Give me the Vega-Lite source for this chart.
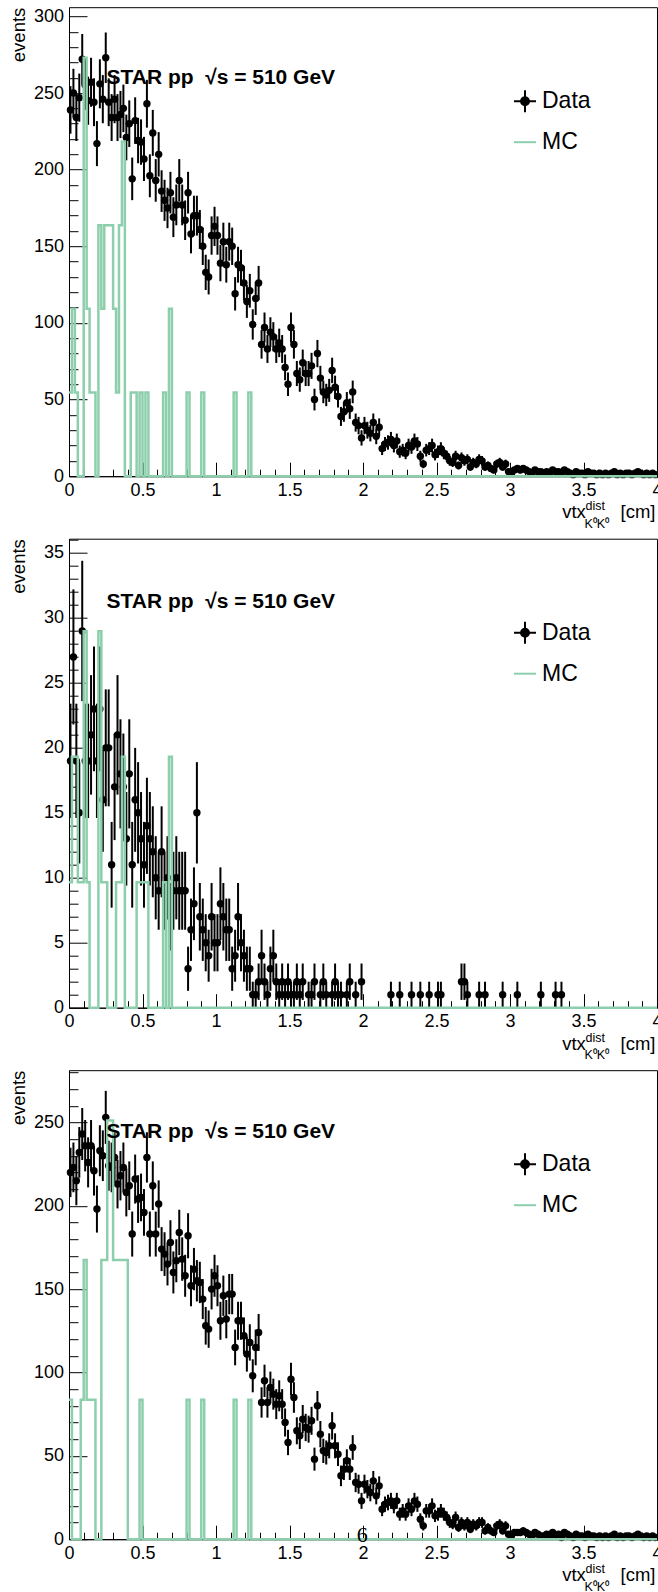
{
"$schema": "https://vega.github.io/schema/vega-lite/v6.json",
"background": "white",
"padding": {"left": 9, "top": 6.2, "right": 0, "bottom": 0},
"bounds": "flush",
"spacing": 62.5,
"resolve": {"scale": {"color": "independent"}},
"datasets": {
"d1": [{"x":0.01,"n":239,"e":15.5},{"x":0.03,"n":250,"e":15.8},{"x":0.05,"n":234,"e":15.3},{"x":0.07,"n":247,"e":15.7},{"x":0.09,"n":272,"e":16.5},{"x":0.11,"n":255,"e":16},{"x":0.13,"n":245,"e":15.7},{"x":0.15,"n":257,"e":16},{"x":0.17,"n":244,"e":15.6},{"x":0.19,"n":217,"e":14.7},{"x":0.21,"n":256,"e":16},{"x":0.23,"n":246,"e":15.7},{"x":0.25,"n":273,"e":16.5},{"x":0.27,"n":244,"e":15.6},{"x":0.29,"n":234,"e":15.3},{"x":0.31,"n":246,"e":15.7},{"x":0.33,"n":234,"e":15.3},{"x":0.35,"n":236,"e":15.4},{"x":0.37,"n":240,"e":15.5},{"x":0.39,"n":221,"e":14.9},{"x":0.41,"n":230,"e":15.2},{"x":0.43,"n":194,"e":13.9},{"x":0.45,"n":232,"e":15.2},{"x":0.47,"n":219,"e":14.8},{"x":0.49,"n":218,"e":14.8},{"x":0.51,"n":207,"e":14.4},{"x":0.53,"n":243,"e":15.6},{"x":0.55,"n":196,"e":14},{"x":0.57,"n":224,"e":15},{"x":0.59,"n":193,"e":13.9},{"x":0.61,"n":210,"e":14.5},{"x":0.63,"n":186,"e":13.6},{"x":0.65,"n":180,"e":13.4},{"x":0.67,"n":175,"e":13.2},{"x":0.69,"n":185,"e":13.6},{"x":0.71,"n":169,"e":13},{"x":0.73,"n":177,"e":13.3},{"x":0.75,"n":193,"e":13.9},{"x":0.77,"n":177,"e":13.3},{"x":0.79,"n":167,"e":12.9},{"x":0.81,"n":185,"e":13.6},{"x":0.83,"n":158,"e":12.6},{"x":0.85,"n":170,"e":13},{"x":0.87,"n":170,"e":13},{"x":0.89,"n":161,"e":12.7},{"x":0.91,"n":150,"e":12.2},{"x":0.93,"n":133,"e":11.5},{"x":0.95,"n":130,"e":11.4},{"x":0.97,"n":157,"e":12.5},{"x":0.99,"n":163,"e":12.8},{"x":1.01,"n":157,"e":12.5},{"x":1.03,"n":139,"e":11.8},{"x":1.05,"n":153,"e":12.4},{"x":1.07,"n":138,"e":11.7},{"x":1.09,"n":153,"e":12.4},{"x":1.11,"n":150,"e":12.2},{"x":1.13,"n":119,"e":10.9},{"x":1.15,"n":138,"e":11.7},{"x":1.17,"n":136,"e":11.7},{"x":1.19,"n":126,"e":11.2},{"x":1.21,"n":114,"e":10.7},{"x":1.23,"n":121,"e":11},{"x":1.25,"n":99,"e":9.9},{"x":1.27,"n":116,"e":10.8},{"x":1.29,"n":126,"e":11.2},{"x":1.31,"n":86,"e":9.3},{"x":1.33,"n":97,"e":9.8},{"x":1.35,"n":83,"e":9.1},{"x":1.37,"n":94,"e":9.7},{"x":1.39,"n":91,"e":9.5},{"x":1.41,"n":83,"e":9.1},{"x":1.43,"n":87,"e":9.3},{"x":1.45,"n":83,"e":9.1},{"x":1.47,"n":71,"e":8.4},{"x":1.49,"n":60,"e":7.7},{"x":1.51,"n":97,"e":9.8},{"x":1.53,"n":86,"e":9.3},{"x":1.55,"n":67,"e":8.2},{"x":1.57,"n":63,"e":7.9},{"x":1.59,"n":74,"e":8.6},{"x":1.61,"n":67,"e":8.2},{"x":1.63,"n":67,"e":8.2},{"x":1.65,"n":72,"e":8.5},{"x":1.67,"n":50,"e":7.1},{"x":1.69,"n":80,"e":8.9},{"x":1.71,"n":64,"e":8},{"x":1.73,"n":55,"e":7.4},{"x":1.75,"n":53,"e":7.3},{"x":1.77,"n":56,"e":7.5},{"x":1.79,"n":69,"e":8.3},{"x":1.81,"n":58,"e":7.6},{"x":1.83,"n":52,"e":7.2},{"x":1.85,"n":39,"e":6.2},{"x":1.87,"n":42,"e":6.5},{"x":1.89,"n":48,"e":6.9},{"x":1.91,"n":44,"e":6.6},{"x":1.93,"n":55,"e":7.4},{"x":1.95,"n":35,"e":5.9},{"x":1.97,"n":33,"e":5.7},{"x":1.99,"n":25,"e":5},{"x":2.01,"n":33,"e":5.7},{"x":2.03,"n":30,"e":5.5},{"x":2.05,"n":28,"e":5.3},{"x":2.07,"n":35,"e":5.9},{"x":2.09,"n":26,"e":5.1},{"x":2.11,"n":32,"e":5.7},{"x":2.13,"n":18,"e":4.2},{"x":2.15,"n":21,"e":4.6},{"x":2.17,"n":22,"e":4.7},{"x":2.19,"n":24,"e":4.9},{"x":2.21,"n":20,"e":4.5},{"x":2.23,"n":23,"e":4.8},{"x":2.25,"n":16,"e":4},{"x":2.27,"n":17,"e":4.1},{"x":2.29,"n":15,"e":3.9},{"x":2.31,"n":20,"e":4.5},{"x":2.33,"n":19,"e":4.4},{"x":2.35,"n":23,"e":4.8},{"x":2.37,"n":21,"e":4.6},{"x":2.39,"n":13,"e":3.6},{"x":2.41,"n":8,"e":2.8},{"x":2.43,"n":17,"e":4.1},{"x":2.45,"n":18,"e":4.2},{"x":2.47,"n":20,"e":4.5},{"x":2.49,"n":14,"e":3.7},{"x":2.51,"n":16,"e":4},{"x":2.53,"n":18,"e":4.2},{"x":2.55,"n":15,"e":3.9},{"x":2.57,"n":13,"e":3.6},{"x":2.59,"n":10,"e":3.2},{"x":2.61,"n":9,"e":3},{"x":2.63,"n":13,"e":3.6},{"x":2.65,"n":7,"e":2.6},{"x":2.67,"n":12,"e":3.5},{"x":2.69,"n":10,"e":3.2},{"x":2.71,"n":11,"e":3.3},{"x":2.73,"n":6,"e":2.4},{"x":2.75,"n":9,"e":3},{"x":2.77,"n":8,"e":2.8},{"x":2.79,"n":11,"e":3.3},{"x":2.81,"n":10,"e":3.2},{"x":2.83,"n":6,"e":2.4},{"x":2.85,"n":7,"e":2.6},{"x":2.87,"n":5,"e":2.2},{"x":2.89,"n":4,"e":2},{"x":2.91,"n":8,"e":2.8},{"x":2.93,"n":9,"e":3},{"x":2.95,"n":6,"e":2.4},{"x":2.97,"n":8,"e":2.8},{"x":2.99,"n":3,"e":1.7},{"x":3.01,"n":2,"e":1.4},{"x":3.03,"n":4,"e":2},{"x":3.05,"n":5,"e":2.2},{"x":3.07,"n":4,"e":2},{"x":3.09,"n":5,"e":2.2},{"x":3.11,"n":4,"e":2},{"x":3.13,"n":3,"e":1.7},{"x":3.15,"n":2,"e":1.4},{"x":3.17,"n":4,"e":2},{"x":3.19,"n":3,"e":1.7},{"x":3.21,"n":3,"e":1.7},{"x":3.23,"n":2,"e":1.4},{"x":3.25,"n":3,"e":1.7},{"x":3.27,"n":2,"e":1.4},{"x":3.29,"n":4,"e":2},{"x":3.31,"n":3,"e":1.7},{"x":3.33,"n":3,"e":1.7},{"x":3.35,"n":2,"e":1.4},{"x":3.37,"n":4,"e":2},{"x":3.39,"n":3,"e":1.7},{"x":3.41,"n":2,"e":1.4},{"x":3.43,"n":1,"e":1},{"x":3.45,"n":3,"e":1.7},{"x":3.47,"n":2,"e":1.4},{"x":3.49,"n":2,"e":1.4},{"x":3.51,"n":1,"e":1},{"x":3.53,"n":3,"e":1.7},{"x":3.55,"n":2,"e":1.4},{"x":3.57,"n":2,"e":1.4},{"x":3.59,"n":1,"e":1},{"x":3.61,"n":2,"e":1.4},{"x":3.63,"n":1,"e":1},{"x":3.65,"n":2,"e":1.4},{"x":3.67,"n":1,"e":1},{"x":3.69,"n":2,"e":1.4},{"x":3.71,"n":3,"e":1.7},{"x":3.73,"n":1,"e":1},{"x":3.75,"n":2,"e":1.4},{"x":3.77,"n":1,"e":1},{"x":3.79,"n":2,"e":1.4},{"x":3.81,"n":2,"e":1.4},{"x":3.83,"n":1,"e":1},{"x":3.85,"n":2,"e":1.4},{"x":3.87,"n":3,"e":1.7},{"x":3.89,"n":2,"e":1.4},{"x":3.91,"n":1,"e":1},{"x":3.93,"n":2,"e":1.4},{"x":3.95,"n":1,"e":1},{"x":3.97,"n":2,"e":1.4},{"x":3.99,"n":1,"e":1}],
"d2": [{"x":0.01,"n":19,"e":4.4},{"x":0.03,"n":27,"e":5.2},{"x":0.05,"n":19,"e":4.4},{"x":0.07,"n":15,"e":3.9},{"x":0.09,"n":29,"e":5.4},{"x":0.11,"n":19,"e":4.4},{"x":0.13,"n":19,"e":4.4},{"x":0.15,"n":21,"e":4.6},{"x":0.17,"n":23,"e":4.8},{"x":0.19,"n":19,"e":4.4},{"x":0.21,"n":23,"e":4.8},{"x":0.23,"n":16,"e":4},{"x":0.25,"n":20,"e":4.5},{"x":0.27,"n":20,"e":4.5},{"x":0.29,"n":11,"e":3.3},{"x":0.31,"n":17,"e":4.1},{"x":0.33,"n":21,"e":4.6},{"x":0.35,"n":18,"e":4.2},{"x":0.37,"n":17,"e":4.1},{"x":0.39,"n":13,"e":3.6},{"x":0.41,"n":18,"e":4.2},{"x":0.43,"n":11,"e":3.3},{"x":0.45,"n":16,"e":4},{"x":0.47,"n":15,"e":3.9},{"x":0.49,"n":13,"e":3.6},{"x":0.51,"n":11,"e":3.3},{"x":0.53,"n":14,"e":3.7},{"x":0.55,"n":13,"e":3.6},{"x":0.57,"n":12,"e":3.5},{"x":0.59,"n":10,"e":3.2},{"x":0.61,"n":9,"e":3},{"x":0.63,"n":12,"e":3.5},{"x":0.65,"n":9,"e":3},{"x":0.67,"n":10,"e":3.2},{"x":0.69,"n":7,"e":2.6},{"x":0.71,"n":9,"e":3},{"x":0.73,"n":10,"e":3.2},{"x":0.75,"n":9,"e":3},{"x":0.77,"n":9,"e":3},{"x":0.79,"n":9,"e":3},{"x":0.81,"n":3,"e":1.7},{"x":0.83,"n":6,"e":2.4},{"x":0.85,"n":8,"e":2.8},{"x":0.87,"n":15,"e":3.9},{"x":0.89,"n":7,"e":2.6},{"x":0.91,"n":6,"e":2.4},{"x":0.93,"n":5,"e":2.2},{"x":0.95,"n":4,"e":2},{"x":0.97,"n":7,"e":2.6},{"x":0.99,"n":5,"e":2.2},{"x":1.01,"n":5,"e":2.2},{"x":1.03,"n":8,"e":2.8},{"x":1.05,"n":7,"e":2.6},{"x":1.07,"n":6,"e":2.4},{"x":1.09,"n":6,"e":2.4},{"x":1.11,"n":3,"e":1.7},{"x":1.13,"n":4,"e":2},{"x":1.15,"n":7,"e":2.6},{"x":1.17,"n":5,"e":2.2},{"x":1.19,"n":4,"e":2},{"x":1.21,"n":3,"e":1.7},{"x":1.23,"n":3,"e":1.7},{"x":1.25,"n":1,"e":1},{"x":1.27,"n":1,"e":1},{"x":1.29,"n":2,"e":1.4},{"x":1.31,"n":4,"e":2},{"x":1.33,"n":2,"e":1.4},{"x":1.35,"n":1,"e":1},{"x":1.37,"n":3,"e":1.7},{"x":1.39,"n":4,"e":2},{"x":1.41,"n":2,"e":1.4},{"x":1.43,"n":1,"e":1},{"x":1.45,"n":2,"e":1.4},{"x":1.47,"n":1,"e":1},{"x":1.49,"n":2,"e":1.4},{"x":1.51,"n":1,"e":1},{"x":1.53,"n":1,"e":1},{"x":1.55,"n":2,"e":1.4},{"x":1.57,"n":1,"e":1},{"x":1.59,"n":2,"e":1.4},{"x":1.63,"n":1,"e":1},{"x":1.65,"n":1,"e":1},{"x":1.67,"n":2,"e":1.4},{"x":1.71,"n":1,"e":1},{"x":1.73,"n":2,"e":1.4},{"x":1.75,"n":1,"e":1},{"x":1.79,"n":1,"e":1},{"x":1.81,"n":2,"e":1.4},{"x":1.83,"n":1,"e":1},{"x":1.85,"n":1,"e":1},{"x":1.89,"n":1,"e":1},{"x":1.91,"n":2,"e":1.4},{"x":1.95,"n":1,"e":1},{"x":1.99,"n":2,"e":1.4},{"x":2.19,"n":1,"e":1},{"x":2.25,"n":1,"e":1},{"x":2.33,"n":1,"e":1},{"x":2.39,"n":1,"e":1},{"x":2.45,"n":1,"e":1},{"x":2.51,"n":1,"e":1},{"x":2.53,"n":1,"e":1},{"x":2.67,"n":2,"e":1.4},{"x":2.69,"n":2,"e":1.4},{"x":2.71,"n":1,"e":1},{"x":2.79,"n":1,"e":1},{"x":2.83,"n":1,"e":1},{"x":2.95,"n":1,"e":1},{"x":3.05,"n":1,"e":1},{"x":3.21,"n":1,"e":1},{"x":3.31,"n":1,"e":1},{"x":3.35,"n":1,"e":1}],
"d3": [{"x":0.01,"n":220,"e":14.8},{"x":0.03,"n":223,"e":14.9},{"x":0.05,"n":215,"e":14.7},{"x":0.07,"n":232,"e":15.2},{"x":0.09,"n":243,"e":15.6},{"x":0.11,"n":236,"e":15.4},{"x":0.13,"n":226,"e":15},{"x":0.15,"n":236,"e":15.4},{"x":0.17,"n":221,"e":14.9},{"x":0.19,"n":198,"e":14.1},{"x":0.21,"n":233,"e":15.3},{"x":0.23,"n":230,"e":15.2},{"x":0.25,"n":253,"e":15.9},{"x":0.27,"n":224,"e":15},{"x":0.29,"n":223,"e":14.9},{"x":0.31,"n":229,"e":15.1},{"x":0.33,"n":213,"e":14.6},{"x":0.35,"n":218,"e":14.8},{"x":0.37,"n":223,"e":14.9},{"x":0.39,"n":208,"e":14.4},{"x":0.41,"n":212,"e":14.6},{"x":0.43,"n":183,"e":13.5},{"x":0.45,"n":216,"e":14.7},{"x":0.47,"n":204,"e":14.3},{"x":0.49,"n":205,"e":14.3},{"x":0.51,"n":196,"e":14},{"x":0.53,"n":229,"e":15.1},{"x":0.55,"n":183,"e":13.5},{"x":0.57,"n":212,"e":14.6},{"x":0.59,"n":183,"e":13.5},{"x":0.61,"n":201,"e":14.2},{"x":0.63,"n":174,"e":13.2},{"x":0.65,"n":171,"e":13.1},{"x":0.67,"n":165,"e":12.8},{"x":0.69,"n":178,"e":13.3},{"x":0.71,"n":160,"e":12.6},{"x":0.73,"n":167,"e":12.9},{"x":0.75,"n":184,"e":13.6},{"x":0.77,"n":168,"e":13},{"x":0.79,"n":158,"e":12.6},{"x":0.81,"n":182,"e":13.5},{"x":0.83,"n":152,"e":12.3},{"x":0.85,"n":162,"e":12.7},{"x":0.87,"n":155,"e":12.4},{"x":0.89,"n":154,"e":12.4},{"x":0.91,"n":144,"e":12},{"x":0.93,"n":128,"e":11.3},{"x":0.95,"n":126,"e":11.2},{"x":0.97,"n":150,"e":12.2},{"x":0.99,"n":158,"e":12.6},{"x":1.01,"n":152,"e":12.3},{"x":1.03,"n":131,"e":11.4},{"x":1.05,"n":146,"e":12.1},{"x":1.07,"n":132,"e":11.5},{"x":1.09,"n":147,"e":12.1},{"x":1.11,"n":147,"e":12.1},{"x":1.13,"n":115,"e":10.7},{"x":1.15,"n":131,"e":11.4},{"x":1.17,"n":131,"e":11.4},{"x":1.19,"n":122,"e":11},{"x":1.21,"n":111,"e":10.5},{"x":1.23,"n":118,"e":10.9},{"x":1.25,"n":98,"e":9.9},{"x":1.27,"n":115,"e":10.7},{"x":1.29,"n":124,"e":11.1},{"x":1.31,"n":82,"e":9.1},{"x":1.33,"n":95,"e":9.7},{"x":1.35,"n":82,"e":9.1},{"x":1.37,"n":91,"e":9.5},{"x":1.39,"n":87,"e":9.3},{"x":1.41,"n":81,"e":9},{"x":1.43,"n":86,"e":9.3},{"x":1.45,"n":81,"e":9},{"x":1.47,"n":70,"e":8.4},{"x":1.49,"n":58,"e":7.6},{"x":1.51,"n":96,"e":9.8},{"x":1.53,"n":85,"e":9.2},{"x":1.55,"n":65,"e":8.1},{"x":1.57,"n":62,"e":7.9},{"x":1.59,"n":72,"e":8.5},{"x":1.61,"n":67,"e":8.2},{"x":1.63,"n":66,"e":8.1},{"x":1.65,"n":71,"e":8.4},{"x":1.67,"n":48,"e":6.9},{"x":1.69,"n":80,"e":8.9},{"x":1.71,"n":63,"e":7.9},{"x":1.73,"n":53,"e":7.3},{"x":1.75,"n":52,"e":7.2},{"x":1.77,"n":56,"e":7.5},{"x":1.79,"n":68,"e":8.2},{"x":1.81,"n":56,"e":7.5},{"x":1.83,"n":51,"e":7.1},{"x":1.85,"n":38,"e":6.2},{"x":1.87,"n":42,"e":6.5},{"x":1.89,"n":47,"e":6.9},{"x":1.91,"n":42,"e":6.5},{"x":1.93,"n":55,"e":7.4},{"x":1.95,"n":34,"e":5.8},{"x":1.97,"n":33,"e":5.7},{"x":1.99,"n":23,"e":4.8},{"x":2.01,"n":33,"e":5.7},{"x":2.03,"n":30,"e":5.5},{"x":2.05,"n":28,"e":5.3},{"x":2.07,"n":35,"e":5.9},{"x":2.09,"n":26,"e":5.1},{"x":2.11,"n":32,"e":5.7},{"x":2.13,"n":18,"e":4.2},{"x":2.15,"n":21,"e":4.6},{"x":2.17,"n":22,"e":4.7},{"x":2.19,"n":23,"e":4.8},{"x":2.21,"n":20,"e":4.5},{"x":2.23,"n":23,"e":4.8},{"x":2.25,"n":15,"e":3.9},{"x":2.27,"n":17,"e":4.1},{"x":2.29,"n":15,"e":3.9},{"x":2.31,"n":20,"e":4.5},{"x":2.33,"n":18,"e":4.2},{"x":2.35,"n":23,"e":4.8},{"x":2.37,"n":21,"e":4.6},{"x":2.39,"n":12,"e":3.5},{"x":2.41,"n":8,"e":2.8},{"x":2.43,"n":17,"e":4.1},{"x":2.45,"n":17,"e":4.1},{"x":2.47,"n":20,"e":4.5},{"x":2.49,"n":14,"e":3.7},{"x":2.51,"n":15,"e":3.9},{"x":2.53,"n":17,"e":4.1},{"x":2.55,"n":15,"e":3.9},{"x":2.57,"n":13,"e":3.6},{"x":2.59,"n":10,"e":3.2},{"x":2.61,"n":9,"e":3},{"x":2.63,"n":13,"e":3.6},{"x":2.65,"n":7,"e":2.6},{"x":2.67,"n":10,"e":3.2},{"x":2.69,"n":8,"e":2.8},{"x":2.71,"n":10,"e":3.2},{"x":2.73,"n":6,"e":2.4},{"x":2.75,"n":9,"e":3},{"x":2.77,"n":8,"e":2.8},{"x":2.79,"n":10,"e":3.2},{"x":2.81,"n":10,"e":3.2},{"x":2.83,"n":5,"e":2.2},{"x":2.85,"n":7,"e":2.6},{"x":2.87,"n":5,"e":2.2},{"x":2.89,"n":4,"e":2},{"x":2.91,"n":8,"e":2.8},{"x":2.93,"n":9,"e":3},{"x":2.95,"n":5,"e":2.2},{"x":2.97,"n":8,"e":2.8},{"x":2.99,"n":3,"e":1.7},{"x":3.01,"n":2,"e":1.4},{"x":3.03,"n":4,"e":2},{"x":3.05,"n":4,"e":2},{"x":3.07,"n":4,"e":2},{"x":3.09,"n":5,"e":2.2},{"x":3.11,"n":4,"e":2},{"x":3.13,"n":3,"e":1.7},{"x":3.15,"n":2,"e":1.4},{"x":3.17,"n":4,"e":2},{"x":3.19,"n":3,"e":1.7},{"x":3.21,"n":2,"e":1.4},{"x":3.23,"n":2,"e":1.4},{"x":3.25,"n":3,"e":1.7},{"x":3.27,"n":2,"e":1.4},{"x":3.29,"n":4,"e":2},{"x":3.31,"n":2,"e":1.4},{"x":3.33,"n":3,"e":1.7},{"x":3.35,"n":1,"e":1},{"x":3.37,"n":4,"e":2},{"x":3.39,"n":3,"e":1.7},{"x":3.41,"n":2,"e":1.4},{"x":3.43,"n":1,"e":1},{"x":3.45,"n":3,"e":1.7},{"x":3.47,"n":2,"e":1.4},{"x":3.49,"n":2,"e":1.4},{"x":3.51,"n":1,"e":1},{"x":3.53,"n":3,"e":1.7},{"x":3.55,"n":2,"e":1.4},{"x":3.57,"n":2,"e":1.4},{"x":3.59,"n":1,"e":1},{"x":3.61,"n":2,"e":1.4},{"x":3.63,"n":1,"e":1},{"x":3.65,"n":2,"e":1.4},{"x":3.67,"n":1,"e":1},{"x":3.69,"n":2,"e":1.4},{"x":3.71,"n":3,"e":1.7},{"x":3.73,"n":1,"e":1},{"x":3.75,"n":2,"e":1.4},{"x":3.77,"n":1,"e":1},{"x":3.79,"n":2,"e":1.4},{"x":3.81,"n":2,"e":1.4},{"x":3.83,"n":1,"e":1},{"x":3.85,"n":2,"e":1.4},{"x":3.87,"n":3,"e":1.7},{"x":3.89,"n":2,"e":1.4},{"x":3.91,"n":1,"e":1},{"x":3.93,"n":2,"e":1.4},{"x":3.95,"n":1,"e":1},{"x":3.97,"n":2,"e":1.4},{"x":3.99,"n":1,"e":1}],
"m1": [{"x":0,"v":54.6},{"x":0.02,"v":109.2},{"x":0.04,"v":54.6},{"x":0.06,"v":0},{"x":0.08,"v":0},{"x":0.1,"v":273},{"x":0.12,"v":109.2},{"x":0.14,"v":54.6},{"x":0.16,"v":54.6},{"x":0.18,"v":0},{"x":0.2,"v":163.8},{"x":0.22,"v":109.2},{"x":0.24,"v":163.8},{"x":0.26,"v":163.8},{"x":0.28,"v":163.8},{"x":0.3,"v":109.2},{"x":0.32,"v":54.6},{"x":0.34,"v":163.8},{"x":0.36,"v":218.4},{"x":0.38,"v":0},{"x":0.4,"v":0},{"x":0.42,"v":54.6},{"x":0.44,"v":54.6},{"x":0.46,"v":0},{"x":0.48,"v":54.6},{"x":0.5,"v":0},{"x":0.52,"v":54.6},{"x":0.54,"v":0},{"x":0.56,"v":0},{"x":0.58,"v":0},{"x":0.6,"v":0},{"x":0.62,"v":0},{"x":0.64,"v":54.6},{"x":0.66,"v":0},{"x":0.68,"v":109.2},{"x":0.7,"v":0},{"x":0.72,"v":0},{"x":0.74,"v":0},{"x":0.76,"v":0},{"x":0.78,"v":0},{"x":0.8,"v":54.6},{"x":0.82,"v":0},{"x":0.84,"v":0},{"x":0.86,"v":0},{"x":0.88,"v":0},{"x":0.9,"v":54.6},{"x":0.92,"v":0},{"x":0.94,"v":0},{"x":0.96,"v":0},{"x":0.98,"v":0},{"x":1,"v":0},{"x":1.02,"v":0},{"x":1.04,"v":0},{"x":1.06,"v":0},{"x":1.08,"v":0},{"x":1.1,"v":0},{"x":1.12,"v":54.6},{"x":1.14,"v":0},{"x":1.16,"v":0},{"x":1.18,"v":0},{"x":1.2,"v":0},{"x":1.22,"v":54.6},{"x":1.24,"v":0},{"x":4,"v":0}],
"m2": [{"x":0,"v":9.66},{"x":0.02,"v":19.32},{"x":0.04,"v":19.32},{"x":0.06,"v":9.66},{"x":0.08,"v":9.66},{"x":0.1,"v":28.98},{"x":0.12,"v":9.66},{"x":0.14,"v":0},{"x":0.16,"v":0},{"x":0.18,"v":0},{"x":0.2,"v":28.98},{"x":0.22,"v":9.66},{"x":0.24,"v":9.66},{"x":0.26,"v":0},{"x":0.28,"v":0},{"x":0.3,"v":0},{"x":0.32,"v":9.66},{"x":0.34,"v":9.66},{"x":0.36,"v":19.32},{"x":0.38,"v":0},{"x":0.4,"v":0},{"x":0.42,"v":0},{"x":0.44,"v":0},{"x":0.46,"v":9.66},{"x":0.48,"v":9.66},{"x":0.5,"v":9.66},{"x":0.52,"v":9.66},{"x":0.54,"v":0},{"x":0.56,"v":0},{"x":0.58,"v":0},{"x":0.6,"v":0},{"x":0.62,"v":0},{"x":0.64,"v":9.66},{"x":0.66,"v":0},{"x":0.68,"v":19.32},{"x":0.7,"v":0},{"x":4,"v":0}],
"m3": [{"x":0,"v":83.7},{"x":0.02,"v":0},{"x":0.04,"v":0},{"x":0.06,"v":0},{"x":0.08,"v":83.7},{"x":0.1,"v":167.4},{"x":0.12,"v":83.7},{"x":0.14,"v":83.7},{"x":0.16,"v":83.7},{"x":0.18,"v":0},{"x":0.2,"v":0},{"x":0.22,"v":167.4},{"x":0.24,"v":167.4},{"x":0.26,"v":251.1},{"x":0.28,"v":251.1},{"x":0.3,"v":167.4},{"x":0.32,"v":167.4},{"x":0.34,"v":167.4},{"x":0.36,"v":167.4},{"x":0.38,"v":167.4},{"x":0.4,"v":0},{"x":0.42,"v":0},{"x":0.44,"v":0},{"x":0.46,"v":0},{"x":0.48,"v":83.7},{"x":0.5,"v":0},{"x":0.52,"v":0},{"x":0.54,"v":0},{"x":0.56,"v":0},{"x":0.58,"v":0},{"x":0.6,"v":0},{"x":0.62,"v":0},{"x":0.64,"v":0},{"x":0.66,"v":0},{"x":0.68,"v":0},{"x":0.7,"v":0},{"x":0.72,"v":0},{"x":0.74,"v":0},{"x":0.76,"v":0},{"x":0.78,"v":0},{"x":0.8,"v":83.7},{"x":0.82,"v":0},{"x":0.84,"v":0},{"x":0.86,"v":0},{"x":0.88,"v":0},{"x":0.9,"v":83.7},{"x":0.92,"v":0},{"x":0.94,"v":0},{"x":0.96,"v":0},{"x":0.98,"v":0},{"x":1,"v":0},{"x":1.02,"v":0},{"x":1.04,"v":0},{"x":1.06,"v":0},{"x":1.08,"v":0},{"x":1.1,"v":0},{"x":1.12,"v":83.7},{"x":1.14,"v":0},{"x":1.16,"v":0},{"x":1.18,"v":0},{"x":1.2,"v":0},{"x":1.22,"v":83.7},{"x":1.24,"v":0},{"x":4,"v":0}]
},
"vconcat": [
{
"width": 588, "height": 469,
"resolve": {"axis": {"x": "independent", "y": "independent"}},
"layer": [
{"data": {"name": "d1"}, "mark": {"type": "errorbar", "color": "#000", "thickness": 2},
 "encoding": {"x": {"field": "x", "type": "quantitative", "axis": null}, "y": {"field": "n", "type": "quantitative", "axis": null}, "yError": {"field": "e"}}},
{"data": {"name": "d1"}, "mark": {"type": "circle", "size": 55, "color": "#000", "opacity": 1},
 "encoding": {
  "x": {"field": "x", "type": "quantitative", "scale": {"domain": [0, 4], "nice": false, "zero": false},
        "axis": {"orient": "bottom", "values": [0.1,0.2,0.3,0.4,0.6,0.7,0.8,0.9,1.1,1.2,1.3,1.4,1.6,1.7,1.8,1.9,2.1,2.2,2.3,2.4,2.6,2.7,2.8,2.9,3.1,3.2,3.3,3.4,3.6,3.7,3.8,3.9], "tickSize": -7, "labels": false, "domain": false, "title": null, "grid": false}},
  "y": {"field": "n", "type": "quantitative", "scale": {"domain": [0, 306], "nice": false},
        "axis": {"orient": "left", "values": [10,20,30,40,60,70,80,90,110,120,130,140,160,170,180,190,210,220,230,240,260,270,280,290], "tickSize": -9, "labels": false, "domain": false, "title": null, "grid": false}}}},
{"data": {"name": "m1"}, "mark": {"type": "line", "interpolate": "step-after", "strokeWidth": 2.5},
 "encoding": {
  "x": {"field": "x", "type": "quantitative", "axis": {"orient": "bottom", "values": [0,0.5,1,1.5,2,2.5,3,3.5,4], "format": "~g", "tickSize": -14, "labelPadding": 19, "title": null}},
  "y": {"field": "v", "type": "quantitative", "axis": {"orient": "left", "values": [0,50,100,150,200,250,300], "tickSize": -18, "labelPadding": 23.5, "title": "events", "titleX": -44.5, "titleY": 0, "titleAngle": 270, "titleAlign": "right", "titleBaseline": "alphabetic", "titleFontSize": 18.5}},
  "color": {"datum": "MC", "type": "nominal", "scale": {"domain": ["Data", "MC"], "range": ["#000000", "#8dcfac"]},
   "legend": {"orient": "none", "legendX": 444, "legendY": 82, "title": null, "symbolSize": 484, "symbolStrokeWidth": 2, "labelFontSize": 23, "labelColor": "#000", "labelOffset": 5, "rowPadding": 14, "padding": 0,
    "encode": {"symbols": {"update": {
     "shape": [{"test": "datum.value === 'Data'", "value": "M-1,0L1,0M0,-1L0,1M0.36,0A0.36,0.36,0,1,1,-0.36,0A0.36,0.36,0,1,1,0.36,0Z"}, {"value": "stroke"}],
     "fill": [{"test": "datum.value === 'Data'", "value": "#000"}, {"value": "transparent"}],
     "stroke": [{"test": "datum.value === 'Data'", "value": "#000"}, {"value": "#8dcfac"}],
     "strokeWidth": {"value": 2}, "opacity": {"value": 1}}}}}}}},
{"data": {"values": [{"t": "STAR pp\u00a0 √s = 510 GeV"}]}, "mark": {"type": "text", "align": "left", "baseline": "alphabetic", "fontSize": 21, "fontWeight": "bold", "color": "#000"},
 "encoding": {"x": {"datum": 0.255, "type": "quantitative", "axis": null}, "y": {"datum": 256, "type": "quantitative", "axis": null}, "text": {"field": "t"}}},
{"data": {"values": [{"t": "vtx"}]}, "mark": {"type": "text", "align": "left", "baseline": "alphabetic", "fontSize": 18.5, "dy": 42, "color": "#000"},
 "encoding": {"x": {"datum": 3.355, "type": "quantitative", "axis": null}, "y": {"datum": 0, "type": "quantitative", "axis": null}, "text": {"field": "t"}}},
{"data": {"values": [{"t": "[cm]"}]}, "mark": {"type": "text", "align": "left", "baseline": "alphabetic", "fontSize": 18.5, "dy": 42, "color": "#000"},
 "encoding": {"x": {"datum": 3.752, "type": "quantitative", "axis": null}, "y": {"datum": 0, "type": "quantitative", "axis": null}, "text": {"field": "t"}}},
{"data": {"values": [{"t": "dist"}]}, "mark": {"type": "text", "align": "left", "baseline": "alphabetic", "fontSize": 12.5, "dy": 34, "color": "#000"},
 "encoding": {"x": {"datum": 3.514, "type": "quantitative", "axis": null}, "y": {"datum": 0, "type": "quantitative", "axis": null}, "text": {"field": "t"}}},
{"data": {"values": [{"t": "K⁰K⁰"}]}, "mark": {"type": "text", "align": "left", "baseline": "alphabetic", "fontSize": 12.5, "dy": 51.5, "color": "#000"},
 "encoding": {"x": {"datum": 3.507, "type": "quantitative", "axis": null}, "y": {"datum": 0, "type": "quantitative", "axis": null}, "text": {"field": "t"}}}
]
},
{
"width": 588, "height": 469,
"resolve": {"axis": {"x": "independent", "y": "independent"}},
"layer": [
{"data": {"name": "d2"}, "mark": {"type": "errorbar", "color": "#000", "thickness": 2},
 "encoding": {"x": {"field": "x", "type": "quantitative", "axis": null}, "y": {"field": "n", "type": "quantitative", "axis": null}, "yError": {"field": "e"}}},
{"data": {"name": "d2"}, "mark": {"type": "circle", "size": 55, "color": "#000", "opacity": 1},
 "encoding": {
  "x": {"field": "x", "type": "quantitative", "scale": {"domain": [0, 4], "nice": false, "zero": false},
        "axis": {"orient": "bottom", "values": [0.1,0.2,0.3,0.4,0.6,0.7,0.8,0.9,1.1,1.2,1.3,1.4,1.6,1.7,1.8,1.9,2.1,2.2,2.3,2.4,2.6,2.7,2.8,2.9,3.1,3.2,3.3,3.4,3.6,3.7,3.8,3.9], "tickSize": -7, "labels": false, "domain": false, "title": null, "grid": false}},
  "y": {"field": "n", "type": "quantitative", "scale": {"domain": [0, 36.1], "nice": false},
        "axis": {"orient": "left", "values": [1,2,3,4,6,7,8,9,11,12,13,14,16,17,18,19,21,22,23,24,26,27,28,29,31,32,33,34,36], "tickSize": -9, "labels": false, "domain": false, "title": null, "grid": false}}}},
{"data": {"name": "m2"}, "mark": {"type": "line", "interpolate": "step-after", "strokeWidth": 2.5},
 "encoding": {
  "x": {"field": "x", "type": "quantitative", "axis": {"orient": "bottom", "values": [0,0.5,1,1.5,2,2.5,3,3.5,4], "format": "~g", "tickSize": -14, "labelPadding": 19, "title": null}},
  "y": {"field": "v", "type": "quantitative", "axis": {"orient": "left", "values": [0,5,10,15,20,25,30,35], "tickSize": -18, "labelPadding": 23.5, "title": "events", "titleX": -44.5, "titleY": 0, "titleAngle": 270, "titleAlign": "right", "titleBaseline": "alphabetic", "titleFontSize": 18.5}},
  "color": {"datum": "MC", "type": "nominal", "scale": {"domain": ["Data", "MC"], "range": ["#000000", "#8dcfac"]},
   "legend": {"orient": "none", "legendX": 444, "legendY": 82, "title": null, "symbolSize": 484, "symbolStrokeWidth": 2, "labelFontSize": 23, "labelColor": "#000", "labelOffset": 5, "rowPadding": 14, "padding": 0,
    "encode": {"symbols": {"update": {
     "shape": [{"test": "datum.value === 'Data'", "value": "M-1,0L1,0M0,-1L0,1M0.36,0A0.36,0.36,0,1,1,-0.36,0A0.36,0.36,0,1,1,0.36,0Z"}, {"value": "stroke"}],
     "fill": [{"test": "datum.value === 'Data'", "value": "#000"}, {"value": "transparent"}],
     "stroke": [{"test": "datum.value === 'Data'", "value": "#000"}, {"value": "#8dcfac"}],
     "strokeWidth": {"value": 2}, "opacity": {"value": 1}}}}}}}},
{"data": {"values": [{"t": "STAR pp\u00a0 √s = 510 GeV"}]}, "mark": {"type": "text", "align": "left", "baseline": "alphabetic", "fontSize": 21, "fontWeight": "bold", "color": "#000"},
 "encoding": {"x": {"datum": 0.255, "type": "quantitative", "axis": null}, "y": {"datum": 30.8, "type": "quantitative", "axis": null}, "text": {"field": "t"}}},
{"data": {"values": [{"t": "vtx"}]}, "mark": {"type": "text", "align": "left", "baseline": "alphabetic", "fontSize": 18.5, "dy": 42, "color": "#000"},
 "encoding": {"x": {"datum": 3.355, "type": "quantitative", "axis": null}, "y": {"datum": 0, "type": "quantitative", "axis": null}, "text": {"field": "t"}}},
{"data": {"values": [{"t": "[cm]"}]}, "mark": {"type": "text", "align": "left", "baseline": "alphabetic", "fontSize": 18.5, "dy": 42, "color": "#000"},
 "encoding": {"x": {"datum": 3.752, "type": "quantitative", "axis": null}, "y": {"datum": 0, "type": "quantitative", "axis": null}, "text": {"field": "t"}}},
{"data": {"values": [{"t": "dist"}]}, "mark": {"type": "text", "align": "left", "baseline": "alphabetic", "fontSize": 12.5, "dy": 34, "color": "#000"},
 "encoding": {"x": {"datum": 3.514, "type": "quantitative", "axis": null}, "y": {"datum": 0, "type": "quantitative", "axis": null}, "text": {"field": "t"}}},
{"data": {"values": [{"t": "K⁰K⁰"}]}, "mark": {"type": "text", "align": "left", "baseline": "alphabetic", "fontSize": 12.5, "dy": 51.5, "color": "#000"},
 "encoding": {"x": {"datum": 3.507, "type": "quantitative", "axis": null}, "y": {"datum": 0, "type": "quantitative", "axis": null}, "text": {"field": "t"}}}
]
},
{
"width": 588, "height": 469,
"resolve": {"axis": {"x": "independent", "y": "independent"}},
"layer": [
{"data": {"name": "d3"}, "mark": {"type": "errorbar", "color": "#000", "thickness": 2},
 "encoding": {"x": {"field": "x", "type": "quantitative", "axis": null}, "y": {"field": "n", "type": "quantitative", "axis": null}, "yError": {"field": "e"}}},
{"data": {"name": "d3"}, "mark": {"type": "circle", "size": 55, "color": "#000", "opacity": 1},
 "encoding": {
  "x": {"field": "x", "type": "quantitative", "scale": {"domain": [0, 4], "nice": false, "zero": false},
        "axis": {"orient": "bottom", "values": [0.1,0.2,0.3,0.4,0.6,0.7,0.8,0.9,1.1,1.2,1.3,1.4,1.6,1.7,1.8,1.9,2.1,2.2,2.3,2.4,2.6,2.7,2.8,2.9,3.1,3.2,3.3,3.4,3.6,3.7,3.8,3.9], "tickSize": -7, "labels": false, "domain": false, "title": null, "grid": false}},
  "y": {"field": "n", "type": "quantitative", "scale": {"domain": [0, 281.3], "nice": false},
        "axis": {"orient": "left", "values": [10,20,30,40,60,70,80,90,110,120,130,140,160,170,180,190,210,220,230,240,260,270,280], "tickSize": -9, "labels": false, "domain": false, "title": null, "grid": false}}}},
{"data": {"name": "m3"}, "mark": {"type": "line", "interpolate": "step-after", "strokeWidth": 2.5},
 "encoding": {
  "x": {"field": "x", "type": "quantitative", "axis": {"orient": "bottom", "values": [0,0.5,1,1.5,2,2.5,3,3.5,4], "format": "~g", "tickSize": -14, "labelPadding": 19, "title": null}},
  "y": {"field": "v", "type": "quantitative", "axis": {"orient": "left", "values": [0,50,100,150,200,250], "tickSize": -18, "labelPadding": 23.5, "title": "events", "titleX": -44.5, "titleY": 0, "titleAngle": 270, "titleAlign": "right", "titleBaseline": "alphabetic", "titleFontSize": 18.5}},
  "color": {"datum": "MC", "type": "nominal", "scale": {"domain": ["Data", "MC"], "range": ["#000000", "#8dcfac"]},
   "legend": {"orient": "none", "legendX": 444, "legendY": 82, "title": null, "symbolSize": 484, "symbolStrokeWidth": 2, "labelFontSize": 23, "labelColor": "#000", "labelOffset": 5, "rowPadding": 14, "padding": 0,
    "encode": {"symbols": {"update": {
     "shape": [{"test": "datum.value === 'Data'", "value": "M-1,0L1,0M0,-1L0,1M0.36,0A0.36,0.36,0,1,1,-0.36,0A0.36,0.36,0,1,1,0.36,0Z"}, {"value": "stroke"}],
     "fill": [{"test": "datum.value === 'Data'", "value": "#000"}, {"value": "transparent"}],
     "stroke": [{"test": "datum.value === 'Data'", "value": "#000"}, {"value": "#8dcfac"}],
     "strokeWidth": {"value": 2}, "opacity": {"value": 1}}}}}}}},
{"data": {"values": [{"t": "STAR pp\u00a0 √s = 510 GeV"}]}, "mark": {"type": "text", "align": "left", "baseline": "alphabetic", "fontSize": 21, "fontWeight": "bold", "color": "#000"},
 "encoding": {"x": {"datum": 0.255, "type": "quantitative", "axis": null}, "y": {"datum": 240.5, "type": "quantitative", "axis": null}, "text": {"field": "t"}}},
{"data": {"values": [{"t": "vtx"}]}, "mark": {"type": "text", "align": "left", "baseline": "alphabetic", "fontSize": 18.5, "dy": 42, "color": "#000"},
 "encoding": {"x": {"datum": 3.355, "type": "quantitative", "axis": null}, "y": {"datum": 0, "type": "quantitative", "axis": null}, "text": {"field": "t"}}},
{"data": {"values": [{"t": "[cm]"}]}, "mark": {"type": "text", "align": "left", "baseline": "alphabetic", "fontSize": 18.5, "dy": 42, "color": "#000"},
 "encoding": {"x": {"datum": 3.752, "type": "quantitative", "axis": null}, "y": {"datum": 0, "type": "quantitative", "axis": null}, "text": {"field": "t"}}},
{"data": {"values": [{"t": "dist"}]}, "mark": {"type": "text", "align": "left", "baseline": "alphabetic", "fontSize": 12.5, "dy": 34, "color": "#000"},
 "encoding": {"x": {"datum": 3.514, "type": "quantitative", "axis": null}, "y": {"datum": 0, "type": "quantitative", "axis": null}, "text": {"field": "t"}}},
{"data": {"values": [{"t": "K⁰K⁰"}]}, "mark": {"type": "text", "align": "left", "baseline": "alphabetic", "fontSize": 12.5, "dy": 51.5, "color": "#000"},
 "encoding": {"x": {"datum": 3.507, "type": "quantitative", "axis": null}, "y": {"datum": 0, "type": "quantitative", "axis": null}, "text": {"field": "t"}}},
{"data": {"values": [{"t": "6"}]}, "mark": {"type": "text", "align": "center", "baseline": "alphabetic", "font": "Liberation Serif", "fontSize": 22, "dy": 3, "color": "#000"},
 "encoding": {"x": {"datum": 1.995, "type": "quantitative", "axis": null}, "y": {"datum": 0, "type": "quantitative", "axis": null}, "text": {"field": "t"}}}
]
}
],
"config": {
 "font": "Liberation Sans",
 "view": {"stroke": "#000", "strokeWidth": 1},
 "text": {"font": "Liberation Sans"},
 "axis": {"domainColor": "#000", "domainWidth": 1, "tickColor": "#000", "tickWidth": 1, "labelColor": "#000", "labelFont": "Liberation Sans", "labelFontSize": 18, "titleFont": "Liberation Sans", "titleColor": "#000", "titleFontWeight": "normal", "grid": false, "labelOverlap": false, "labelFlush": false},
 "legend": {"labelFont": "Liberation Sans"}
}
}
